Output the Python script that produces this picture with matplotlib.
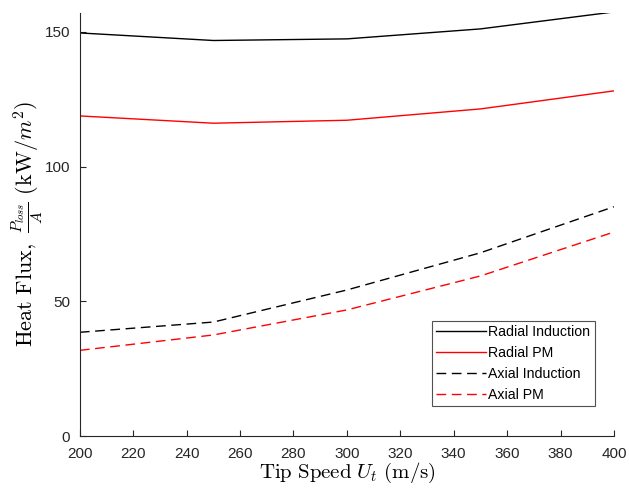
import matplotlib
matplotlib.use("Agg")
import matplotlib.pyplot as plt

plt.rcParams['font.family'] = ['Liberation Sans', 'DejaVu Sans']
plt.rcParams['mathtext.fontset'] = 'cm'

tip_speed = [200, 250, 300, 350, 400]
radial_induction = [149.6, 146.8, 147.4, 151.1, 157.4]
radial_pm = [118.8, 116.1, 117.2, 121.4, 128.1]
axial_induction = [38.5, 42.3, 54.2, 68.0, 85.1]
axial_pm = [31.8, 37.5, 46.8, 59.4, 75.7]

x_ticks = list(range(200, 401, 20))
y_ticks = [0, 50, 100, 150]

fig = plt.figure(figsize=(6.29, 4.93), dpi=100)
ax = fig.add_axes([0.127, 0.1156, 0.849, 0.858])

ax.plot(tip_speed, radial_induction, color='black', lw=1.0, label='Radial Induction')
ax.plot(tip_speed, radial_pm, color='red', lw=1.0, label='Radial PM')
ax.plot(tip_speed, axial_induction, color='black', lw=1.0, ls=(0, (7, 4)), label='Axial Induction')
ax.plot(tip_speed, axial_pm, color='red', lw=1.0, ls=(0, (7, 4)), label='Axial PM')

ax.set_xlim(200, 400)
ax.set_ylim(0, 157)
ax.set_xticks(x_ticks)
ax.set_yticks(y_ticks)

axis_color = '#262626'
for side in ['top', 'right']:
    ax.spines[side].set_visible(False)
for side in ['left', 'bottom']:
    ax.spines[side].set_color(axis_color)
    ax.spines[side].set_linewidth(0.8)
ax.tick_params(direction='in', length=4, width=0.8, colors=axis_color,
               labelsize=11, labelcolor=axis_color)
ax.tick_params(axis='x', pad=8)
ax.tick_params(axis='y', pad=7)

ax.set_xlabel(r'$\mathrm{Tip\ Speed}\ U_t\ \mathrm{(m/s)}$', fontsize=15, labelpad=-0.5)
ax.set_ylabel(r'$\mathrm{Heat\ Flux,}\ \frac{P_{loss}}{A}\ \mathrm{(kW/}m^2\mathrm{)}$',
              fontsize=16, labelpad=-1)

leg = ax.legend(loc='lower right', bbox_to_anchor=(0.964, 0.07), fontsize=10.2,
                frameon=True, fancybox=False, handlelength=3.5, handletextpad=0.2,
                labelspacing=0.5, borderpad=0.3, borderaxespad=0)
leg.get_frame().set_edgecolor(axis_color)
leg.get_frame().set_linewidth(0.8)

fig.savefig('out.png', dpi=100)
